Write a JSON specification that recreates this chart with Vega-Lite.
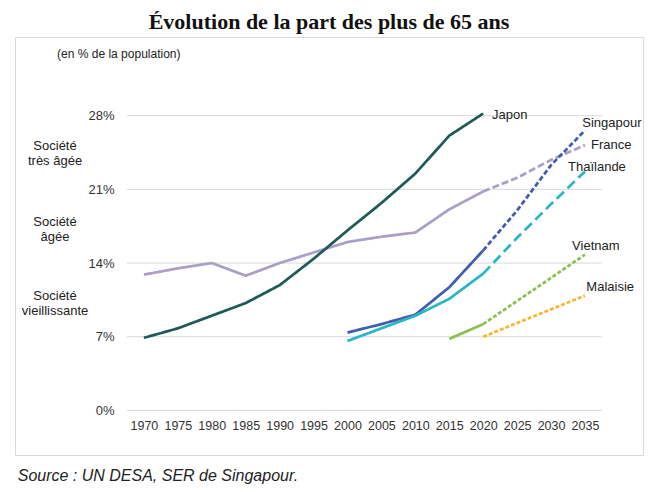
{
  "$schema": "https://vega.github.io/schema/vega-lite/v6.json",
  "width": 628,
  "height": 418,
  "autosize": {"type": "none"},
  "padding": {"left": 15, "top": 37, "right": 12, "bottom": 37},
  "background": "white",
  "title": {"text": "Évolution de la part des plus de 65 ans", "font": "Liberation Serif", "fontSize": 22, "fontWeight": "bold", "color": "#111111", "anchor": "middle", "offset": 3},
  "config": {"view": {"stroke": "#d9d9d9", "strokeWidth": 1}, "font": "Liberation Sans"},
  "datasets": {
    "grid": [{"pct": 0}, {"pct": 7}, {"pct": 14}, {"pct": 21}, {"pct": 28}],
    "series": [
      {"country": "France", "serie": "France obs", "year": 1970, "pct": 12.9},
      {"country": "France", "serie": "France obs", "year": 1975, "pct": 13.5},
      {"country": "France", "serie": "France obs", "year": 1980, "pct": 14.0},
      {"country": "France", "serie": "France obs", "year": 1985, "pct": 12.8},
      {"country": "France", "serie": "France obs", "year": 1990, "pct": 14.0},
      {"country": "France", "serie": "France obs", "year": 1995, "pct": 15.0},
      {"country": "France", "serie": "France obs", "year": 2000, "pct": 16.0},
      {"country": "France", "serie": "France obs", "year": 2005, "pct": 16.5},
      {"country": "France", "serie": "France obs", "year": 2010, "pct": 16.9},
      {"country": "France", "serie": "France obs", "year": 2015, "pct": 19.1},
      {"country": "France", "serie": "France obs", "year": 2020, "pct": 20.8},
      {"country": "France", "serie": "France proj", "year": 2020, "pct": 20.8},
      {"country": "France", "serie": "France proj", "year": 2025, "pct": 22.1},
      {"country": "France", "serie": "France proj", "year": 2030, "pct": 23.8},
      {"country": "France", "serie": "France proj", "year": 2035, "pct": 25.2},
      {"country": "Japon", "serie": "Japon obs", "year": 1970, "pct": 6.9},
      {"country": "Japon", "serie": "Japon obs", "year": 1975, "pct": 7.8},
      {"country": "Japon", "serie": "Japon obs", "year": 1980, "pct": 9.0},
      {"country": "Japon", "serie": "Japon obs", "year": 1985, "pct": 10.2},
      {"country": "Japon", "serie": "Japon obs", "year": 1990, "pct": 11.9},
      {"country": "Japon", "serie": "Japon obs", "year": 1995, "pct": 14.4},
      {"country": "Japon", "serie": "Japon obs", "year": 2000, "pct": 17.1},
      {"country": "Japon", "serie": "Japon obs", "year": 2005, "pct": 19.7},
      {"country": "Japon", "serie": "Japon obs", "year": 2010, "pct": 22.5},
      {"country": "Japon", "serie": "Japon obs", "year": 2015, "pct": 26.1},
      {"country": "Japon", "serie": "Japon obs", "year": 2020, "pct": 28.2},
      {"country": "Singapour", "serie": "Singapour obs", "year": 2000, "pct": 7.4},
      {"country": "Singapour", "serie": "Singapour obs", "year": 2005, "pct": 8.2},
      {"country": "Singapour", "serie": "Singapour obs", "year": 2010, "pct": 9.1},
      {"country": "Singapour", "serie": "Singapour obs", "year": 2015, "pct": 11.7},
      {"country": "Singapour", "serie": "Singapour obs", "year": 2020, "pct": 15.2},
      {"country": "Singapour", "serie": "Singapour proj", "year": 2020, "pct": 15.2},
      {"country": "Singapour", "serie": "Singapour proj", "year": 2025, "pct": 19.0},
      {"country": "Singapour", "serie": "Singapour proj", "year": 2030, "pct": 23.3},
      {"country": "Singapour", "serie": "Singapour proj", "year": 2035, "pct": 26.6},
      {"country": "Thaïlande", "serie": "Thaïlande obs", "year": 2000, "pct": 6.6},
      {"country": "Thaïlande", "serie": "Thaïlande obs", "year": 2005, "pct": 7.8},
      {"country": "Thaïlande", "serie": "Thaïlande obs", "year": 2010, "pct": 9.0},
      {"country": "Thaïlande", "serie": "Thaïlande obs", "year": 2015, "pct": 10.6},
      {"country": "Thaïlande", "serie": "Thaïlande obs", "year": 2020, "pct": 13.0},
      {"country": "Thaïlande", "serie": "Thaïlande proj", "year": 2020, "pct": 13.0},
      {"country": "Thaïlande", "serie": "Thaïlande proj", "year": 2025, "pct": 16.4},
      {"country": "Thaïlande", "serie": "Thaïlande proj", "year": 2030, "pct": 19.6},
      {"country": "Thaïlande", "serie": "Thaïlande proj", "year": 2035, "pct": 22.7},
      {"country": "Vietnam", "serie": "Vietnam obs", "year": 2015, "pct": 6.8},
      {"country": "Vietnam", "serie": "Vietnam obs", "year": 2020, "pct": 8.2},
      {"country": "Vietnam", "serie": "Vietnam proj", "year": 2020, "pct": 8.2},
      {"country": "Vietnam", "serie": "Vietnam proj", "year": 2025, "pct": 10.4},
      {"country": "Vietnam", "serie": "Vietnam proj", "year": 2030, "pct": 12.6},
      {"country": "Vietnam", "serie": "Vietnam proj", "year": 2035, "pct": 14.8},
      {"country": "Malaisie", "serie": "Malaisie proj", "year": 2020, "pct": 7.0},
      {"country": "Malaisie", "serie": "Malaisie proj", "year": 2025, "pct": 8.3},
      {"country": "Malaisie", "serie": "Malaisie proj", "year": 2030, "pct": 9.6},
      {"country": "Malaisie", "serie": "Malaisie proj", "year": 2035, "pct": 10.9}
    ],
    "annot": [
      {"kind": "serie", "text": "Japon", "year": 2021.3, "pct": 28.06},
      {"kind": "serie", "text": "Singapour", "year": 2034.6, "pct": 27.3},
      {"kind": "serie", "text": "France", "year": 2035.9, "pct": 25.2},
      {"kind": "serie", "text": "Thaïlande", "year": 2032.5, "pct": 23.1},
      {"kind": "serie", "text": "Vietnam", "year": 2033.1, "pct": 15.6},
      {"kind": "serie", "text": "Malaisie", "year": 2035.2, "pct": 11.7},
      {"kind": "zone", "text": "Société\ntrès âgée", "year": 1956.9, "pct": 25.1},
      {"kind": "zone", "text": "Société\nâgée", "year": 1956.9, "pct": 17.9},
      {"kind": "zone", "text": "Société\nvieillissante", "year": 1956.9, "pct": 10.9},
      {"kind": "unit", "text": "(en % de la population)", "year": 1957.2, "pct": 33.9},
      {"kind": "source", "text": "Source : UN DESA, SER de Singapour.", "year": 1951.4, "pct": -6.22}
    ]
  },
  "layer": [
    {
      "data": {"name": "grid"},
      "mark": {"type": "rule", "color": "#d9d9d9", "strokeWidth": 1},
      "encoding": {
        "y": {"field": "pct", "type": "quantitative", "scale": {"domain": [-4.23, 35.47], "nice": false, "zero": false},
              "axis": {"values": [0, 7, 14, 21, 28], "labelExpr": "datum.value + '%'", "domain": false, "ticks": false, "grid": false, "labelFontSize": 13, "labelColor": "#333333", "labelPadding": 0, "offset": -99, "title": null, "labelFlush": false, "labelOverlap": false}},
        "x": {"datum": 1967.5, "type": "quantitative", "scale": {"domain": [1951, 2043.55], "nice": false, "zero": false},
              "axis": {"values": [1970, 1975, 1980, 1985, 1990, 1995, 2000, 2005, 2010, 2015, 2020, 2025, 2030, 2035], "format": "d", "domain": false, "ticks": false, "grid": false, "labelFontSize": 12.5, "labelColor": "#333333", "labelPadding": 0, "offset": -36, "title": null, "labelFlush": false, "labelOverlap": false}},
        "x2": {"datum": 2037.5}
      }
    },
    {
      "data": {"name": "series"},
      "mark": {"type": "line", "strokeWidth": 2.75, "strokeCap": "butt", "strokeJoin": "round"},
      "encoding": {
        "x": {"field": "year", "type": "quantitative", "scale": {"domain": [1951, 2043.55], "nice": false, "zero": false}, "title": null},
        "y": {"field": "pct", "type": "quantitative", "scale": {"domain": [-4.23, 35.47], "nice": false, "zero": false}, "title": null},
        "color": {"field": "country", "type": "nominal", "legend": null,
                  "scale": {"domain": ["France", "Japon", "Singapour", "Thaïlande", "Vietnam", "Malaisie"], "range": ["#ab9fca", "#1f5a57", "#3f5fae", "#2ab7c5", "#8cc152", "#f5b731"]}},
        "strokeDash": {"field": "serie", "type": "nominal", "legend": null,
                  "scale": {"domain": ["France obs", "France proj", "Japon obs", "Singapour obs", "Singapour proj", "Thaïlande obs", "Thaïlande proj", "Vietnam obs", "Vietnam proj", "Malaisie proj"],
                            "range": [[1, 0], [7, 3], [1, 0], [1, 0], [5, 2.5], [1, 0], [10, 5], [1, 0], [4, 2], [4, 2]]}}
      }
    },
    {
      "data": {"name": "annot"},
      "transform": [{"filter": "datum.kind === 'serie'"}],
      "mark": {"type": "text", "align": "left", "baseline": "middle", "fontSize": 13, "color": "#222222"},
      "encoding": {
        "x": {"field": "year", "type": "quantitative", "title": null},
        "y": {"field": "pct", "type": "quantitative", "title": null},
        "text": {"field": "text"}
      }
    },
    {
      "data": {"name": "annot"},
      "transform": [{"filter": "datum.kind === 'zone'"}],
      "mark": {"type": "text", "align": "center", "baseline": "middle", "fontSize": 13, "color": "#222222", "lineBreak": "\n", "lineHeight": 15},
      "encoding": {
        "x": {"field": "year", "type": "quantitative", "title": null},
        "y": {"field": "pct", "type": "quantitative", "title": null},
        "text": {"field": "text"}
      }
    },
    {
      "data": {"name": "annot"},
      "transform": [{"filter": "datum.kind === 'unit'"}],
      "mark": {"type": "text", "align": "left", "baseline": "middle", "fontSize": 12, "color": "#222222"},
      "encoding": {
        "x": {"field": "year", "type": "quantitative", "title": null},
        "y": {"field": "pct", "type": "quantitative", "title": null},
        "text": {"field": "text"}
      }
    },
    {
      "data": {"name": "annot"},
      "transform": [{"filter": "datum.kind === 'source'"}],
      "mark": {"type": "text", "align": "left", "baseline": "middle", "fontSize": 16, "fontStyle": "italic", "color": "#222222"},
      "encoding": {
        "x": {"field": "year", "type": "quantitative", "title": null},
        "y": {"field": "pct", "type": "quantitative", "title": null},
        "text": {"field": "text"}
      }
    }
  ]
}
